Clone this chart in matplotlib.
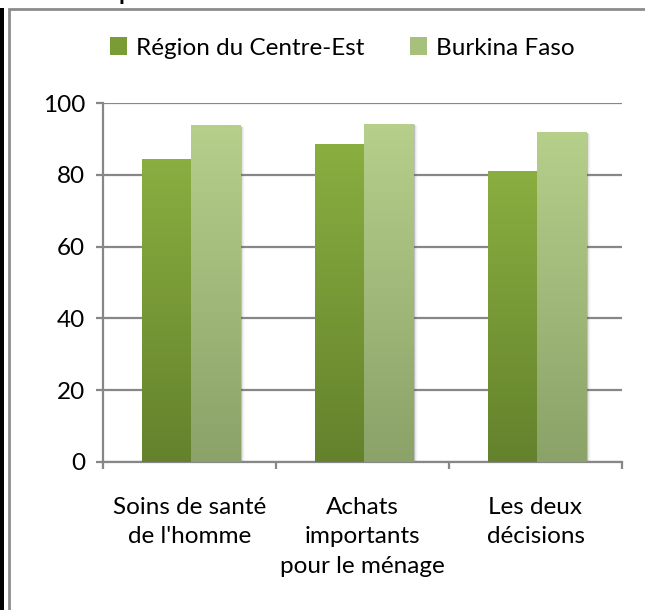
import numpy as np
import matplotlib
matplotlib.use("Agg")
import matplotlib.pyplot as plt
from matplotlib.colors import LinearSegmentedColormap
from matplotlib.patches import Rectangle
import matplotlib.transforms as mtransforms

# Data
categories = ["Soins de santé\nde l'homme", "Achats\nimportants\npour le ménage", "Les deux\ndécisions"]
series_names = ["Région du Centre-Est", "Burkina Faso"]
centre_est = [84.4, 88.5, 81.0]
burkina = [93.6, 94.1, 91.8]
y_ticks = [0, 20, 40, 60, 80, 100]

W, H = 645, 610
DPI = 100
plt.rcParams['font.family'] = ['Lato', 'DejaVu Sans']

fig = plt.figure(figsize=(W / DPI, H / DPI), dpi=DPI)
fig.patch.set_facecolor('white')

def px(x0, y0, x1, y1):
    """Pixel box (from top-left) to figure fraction rect."""
    return [x0 / W, 1 - y1 / H, (x1 - x0) / W, (y1 - y0) / H]

# Outer frame and page edge
frame = Rectangle((9 / W, -0.1), 1.2, 1 - 9 / H + 0.1, transform=fig.transFigure,
                  fill=False, edgecolor='#8c8c8c', linewidth=2.0)
fig.patches.append(frame)
fig.patches.append(Rectangle((0, 0), 4 / W, 1 - 8 / H, transform=fig.transFigure,
                             facecolor='black', edgecolor='none'))
fig.text(118 / W, 1 + 0.5 / H, "p", fontsize=17, fontweight='bold', color='black',
         va='baseline', ha='left')

ax = fig.add_axes(px(103, 103, 622, 462))
ax.set_xlim(-0.5, 2.5)
ax.set_ylim(0, 100)

grey = '#878787'
for s in ['top', 'right']:
    ax.spines[s].set_visible(False)
for s in ['left', 'bottom']:
    ax.spines[s].set_color(grey)
    ax.spines[s].set_linewidth(1.6)

ax.set_yticks(y_ticks)
ax.set_yticklabels([str(v) for v in y_ticks])
ax.tick_params(axis='y', direction='out', length=5, width=1.6, color=grey,
               labelsize=17.5, pad=8, labelcolor='black')
ax.yaxis.grid(True, color=grey, linewidth=1.6)
ax.set_axisbelow(True)

ax.set_xticks([0, 1, 2])
ax.set_xticklabels(categories)
ax.set_xticks([-0.5, 0.5, 1.5, 2.5], minor=True)
ax.tick_params(axis='x', which='major', length=0, labelsize=17.5, pad=25)
ax.tick_params(axis='x', which='minor', direction='out', length=5, width=1.6, color=grey)
for lbl in ax.get_xticklabels():
    lbl.set_linespacing(1.5)
    lbl.set_ha('center')

dark_cmap = LinearSegmentedColormap.from_list('dk', ['#64822c', '#8aae40'])
light_cmap = LinearSegmentedColormap.from_list('lt', ['#8ba268', '#b6cf8b'])

bw = 0.286
shift = 0.01
x = np.arange(len(categories))
grad = np.linspace(0, 1, 256).reshape(-1, 1)

def gradient_bar(xc, h, cmap, label=None):
    x0, x1 = xc - bw / 2, xc + bw / 2
    # soft shadow on the right side
    for k, a in zip(range(1, 6), [0.18, 0.13, 0.09, 0.05, 0.025]):
        off = mtransforms.offset_copy(ax.transData, fig=fig, x=k * 0.8, y=-k * 0.3, units='dots')
        ax.add_patch(Rectangle((x0, 0), bw, h, transform=off, facecolor='#606060',
                               edgecolor='none', alpha=a, zorder=2))
    ax.imshow(grad, extent=[x0, x1, 0, h], origin='lower', cmap=cmap, aspect='auto',
              zorder=3, interpolation='bilinear')
    ax.bar(xc, h, width=bw, color=cmap(0.6), edgecolor='none', alpha=0, label=label)

for i in range(len(categories)):
    gradient_bar(x[i] - bw / 2 + shift, centre_est[i], dark_cmap)
    gradient_bar(x[i] + bw / 2 + shift, burkina[i], light_cmap)
ax.set_xlim(-0.5, 2.5)
ax.set_ylim(0, 100)

handles = [Rectangle((0, 0), 1, 1, facecolor='#7a9c36', edgecolor='none'),
           Rectangle((0, 0), 1, 1, facecolor='#a7c07b', edgecolor='none')]
fig.legend(handles, series_names, loc='center', bbox_to_anchor=(0.531, 1 - 48 / H),
           ncol=2, frameon=False, fontsize=17.5, handlelength=0.7, handleheight=0.7,
           handletextpad=0.35, columnspacing=1.9)

fig.savefig('out.png', dpi=DPI, facecolor='white')
